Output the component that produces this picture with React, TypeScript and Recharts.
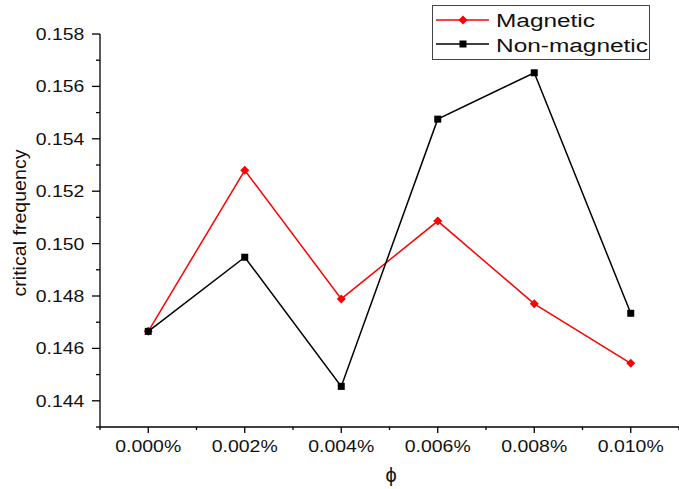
import { LineChart, Line, XAxis, YAxis, Legend } from 'recharts';

const categories = ['0.000%', '0.002%', '0.004%', '0.006%', '0.008%', '0.010%'];
const magnetic = [0.14665, 0.1528, 0.14789, 0.15086, 0.1477, 0.14543];
const nonMagnetic = [0.14665, 0.14948, 0.14455, 0.15475, 0.15652, 0.14734];
const yMajor = [0.144, 0.146, 0.148, 0.15, 0.152, 0.154, 0.156, 0.158];
const yMinor = [0.143, 0.145, 0.147, 0.149, 0.151, 0.153, 0.155, 0.157];
const xMinor = [-0.5, 0.5, 1.5, 2.5, 3.5, 4.5, 5.5];

const data = categories.map((label, i) => ({
  x: i,
  label,
  magnetic: magnetic[i],
  nonMagnetic: nonMagnetic[i],
}));

const FONT = '"Liberation Sans", Arial, sans-serif';

const YTick = ({ x, y, payload }: any) => {
  const major = yMajor.includes(payload.value);
  return (
    <g>
      <line x1={x - (major ? 8 : 4)} x2={x} y1={y} y2={y} stroke="#000" strokeWidth={1.3} />
      {major && (
        <text x={x - 15.7} y={y} dy="0.36em" textAnchor="end" fontSize={16.5} fontFamily={FONT}
          fill="#111" textLength={48.6} lengthAdjust="spacingAndGlyphs">
          {payload.value.toFixed(3)}
        </text>
      )}
    </g>
  );
};

const XTick = ({ x, y, payload }: any) => {
  const major = Number.isInteger(payload.value);
  return (
    <g>
      <line x1={x} x2={x} y1={y} y2={y + (major ? 6 : 3)} stroke="#000" strokeWidth={1.3} />
      {major && (
        <text x={x} y={y + 25} textAnchor="middle" fontSize={16.5} fontFamily={FONT}
          fill="#111" textLength={66} lengthAdjust="spacingAndGlyphs">
          {categories[payload.value]}
        </text>
      )}
    </g>
  );
};

const Diamond = ({ cx, cy }: any) => (
  <path d={`M${cx},${cy - 4.5}L${cx + 4.5},${cy}L${cx},${cy + 4.5}L${cx - 4.5},${cy}Z`} fill="#ff0000" />
);

const Square = ({ cx, cy }: any) => (
  <rect x={cx - 3.5} y={cy - 3.5} width={7} height={7} fill="#000" />
);

const LegendBox = () => (
  <svg width={218} height={55} style={{ display: 'block' }}>
    <rect x={0.5} y={0.5} width={217} height={54} fill="#fff" stroke="#444" strokeWidth={1} />
    <line x1={4} x2={57} y1={15} y2={15} stroke="#ff0000" strokeWidth={1.5} />
    <Diamond cx={31} cy={15} />
    <text x={64} y={22} fontSize={18} fontFamily={FONT} fill="#111" textLength={99}
      lengthAdjust="spacingAndGlyphs">Magnetic</text>
    <line x1={4} x2={57} y1={39} y2={39} stroke="#000" strokeWidth={1.5} />
    <Square cx={31} cy={39} />
    <text x={64} y={46.5} fontSize={18} fontFamily={FONT} fill="#111" textLength={152}
      lengthAdjust="spacingAndGlyphs">Non-magnetic</text>
  </svg>
);

export default function App() {
  return (
    <div style={{ position: 'fixed', left: 0, top: 0, width: 679, height: 489, background: '#fff' }}>
      <LineChart width={679} height={489} data={data} margin={{ top: 34, right: 0, bottom: 0, left: 0 }}>
        <XAxis
          dataKey="x"
          type="number"
          domain={[-0.5, 5.5]}
          ticks={[...xMinor, 0, 1, 2, 3, 4, 5].sort((a, b) => a - b)}
          interval={0}
          height={62}
          tickSize={0}
          tickMargin={0}
          tickLine={false}
          tick={<XTick />}
          axisLine={{ stroke: '#000', strokeWidth: 1.3 }}
          label={{
            content: () => (
              <text x={391} y={482} textAnchor="middle" fontSize={20} fontFamily={FONT} fill="#111">ϕ</text>
            ),
          }}
        />
        <YAxis
          type="number"
          domain={[0.143, 0.158]}
          ticks={[...yMinor, ...yMajor].sort((a, b) => a - b)}
          interval={0}
          width={100}
          tickSize={0}
          tickMargin={0}
          tickLine={false}
          tick={<YTick />}
          axisLine={{ stroke: '#000', strokeWidth: 1.3 }}
          allowDataOverflow
          label={{
            content: () => (
              <text x={26} y={223} transform="rotate(-90 26 223)" textAnchor="middle" fontSize={19}
                fontFamily={FONT} fill="#111" textLength={147} lengthAdjust="spacingAndGlyphs">
                critical frequency
              </text>
            ),
          }}
        />
        <Legend
          layout="horizontal"
          verticalAlign="middle"
          align="center"
          content={<LegendBox />}
          wrapperStyle={{ left: 432, top: 5, width: 218, height: 55 }}
        />
        <Line
          type="linear"
          dataKey="magnetic"
          name="Magnetic"
          stroke="#ff0000"
          strokeWidth={1.5}
          dot={<Diamond />}
          activeDot={false}
          isAnimationActive={false}
        />
        <Line
          type="linear"
          dataKey="nonMagnetic"
          name="Non-magnetic"
          stroke="#000"
          strokeWidth={1.5}
          dot={<Square />}
          activeDot={false}
          isAnimationActive={false}
        />
      </LineChart>
    </div>
  );
}
